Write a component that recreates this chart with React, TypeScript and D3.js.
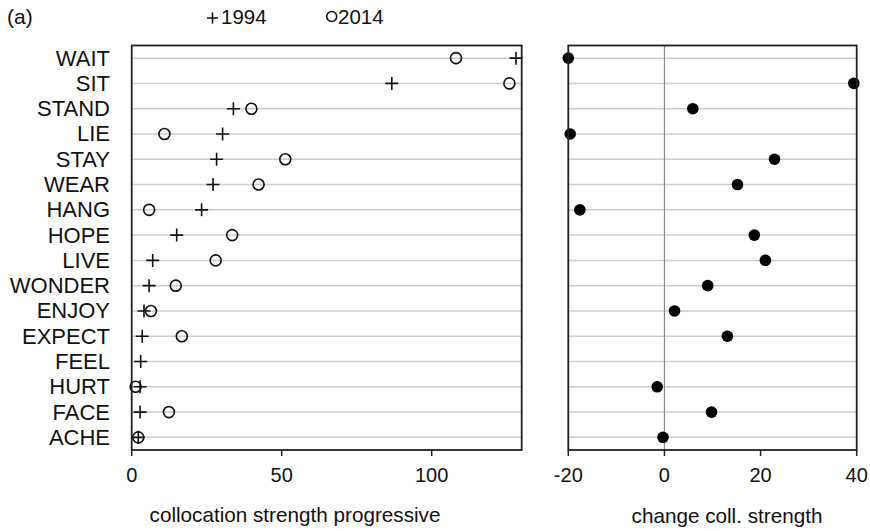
import React from "react";
import * as d3 from "d3";

const categories = ["WAIT","SIT","STAND","LIE","STAY","WEAR","HANG","HOPE","LIVE","WONDER","ENJOY","EXPECT","FEEL","HURT","FACE","ACHE"];
const values1994 = [128.1,86.7,33.9,30.3,28.3,27.1,23.3,15.0,7.0,5.8,4.1,3.5,3.0,2.8,2.8,2.2];
const values2014: (number|null)[] = [108.1,125.9,39.9,10.9,51.2,42.3,5.8,33.5,28.0,14.7,6.4,16.7,null,1.3,12.4,2.2];
const changes: (number|null)[] = [-20,39.4,5.9,-19.6,22.9,15.2,-17.6,18.7,21.0,9.0,2.1,13.1,null,-1.5,9.8,-0.3];
const leftTicks = [0,50,100];
const rightTicks = [-20,0,20,40];

const FONT = "Liberation Sans, Arial, sans-serif";

export default function App() {
  const top = 45.5, bottom = 450;
  const y = d3.scalePoint<string>().domain(categories).range([top, bottom]).padding(0.5);
  const xL = d3.scaleLinear().domain([0,130]).range([131.7,521.7]);
  const xR = d3.scaleLinear().domain([-20,40]).range([568.3,856.7]);
  const plus = (cx:number, cy:number, s=6.5) => `M${cx-s},${cy}H${cx+s}M${cx},${cy-s}V${cy+s}`;
  return (
    <svg width={870} height={531} style={{position:"absolute",left:0,top:0,background:"#fff"}} fontFamily={FONT} fill="#111">
      <text x={7} y={24} fontSize={21}>(a)</text>
      <path d={plus(212.5,18,5.5)} stroke="#111" strokeWidth={1.6}/>
      <text x={221} y={24} fontSize={20.5}>1994</text>
      <circle cx={331.7} cy={16.5} r={5} fill="none" stroke="#111" strokeWidth={1.6}/>
      <text x={338} y={24} fontSize={20.5}>2014</text>

      {/* left panel */}
      {categories.map((c)=>(
        <g key={c}>
          <line x1={xL.range()[0]} x2={xL.range()[1]} y1={y(c)} y2={y(c)} stroke="#ccc" strokeWidth={1.5}/>
          <text x={110} y={y(c)!+7.5} fontSize={22} textAnchor="end">{c}</text>
        </g>
      ))}
      {categories.map((c,i)=>(
        <g key={c+"m"}>
          {values2014[i]!=null && <circle cx={xL(values2014[i] as number)} cy={y(c)} r={5.5} fill="none" stroke="#111" strokeWidth={1.6}/>}
          <path d={plus(xL(values1994[i]), y(c)!)} stroke="#111" strokeWidth={1.6}/>
        </g>
      ))}
      <rect x={xL.range()[0]} y={top} width={xL.range()[1]-xL.range()[0]} height={bottom-top} fill="none" stroke="#222" strokeWidth={1.8}/>
      {leftTicks.map(t=>(
        <g key={t}>
          <line x1={xL(t)} x2={xL(t)} y1={bottom} y2={bottom+6} stroke="#222" strokeWidth={1.5}/>
          <text x={xL(t)} y={482} fontSize={20} textAnchor="middle">{t}</text>
        </g>
      ))}
      <text x={295} y={522} fontSize={20.7} textAnchor="middle">collocation strength progressive</text>

      {/* right panel */}
      {categories.map((c)=>(
        <line key={c+"g"} x1={xR.range()[0]} x2={xR.range()[1]} y1={y(c)} y2={y(c)} stroke="#ccc" strokeWidth={1.5}/>
      ))}
      <line x1={xR(0)} x2={xR(0)} y1={top} y2={bottom} stroke="#888" strokeWidth={1.2}/>
      {categories.map((c,i)=> changes[i]!=null ? (
        <circle key={c+"d"} cx={xR(changes[i] as number)} cy={y(c)} r={5.8} fill="#000"/>
      ) : null)}
      <rect x={xR.range()[0]} y={top} width={xR.range()[1]-xR.range()[0]} height={bottom-top} fill="none" stroke="#222" strokeWidth={1.8}/>
      {rightTicks.map(t=>(
        <g key={t}>
          <line x1={xR(t)} x2={xR(t)} y1={bottom} y2={bottom+6} stroke="#222" strokeWidth={1.5}/>
          <text x={xR(t)} y={482} fontSize={20} textAnchor="middle">{t}</text>
        </g>
      ))}
      <text x={727} y={523} fontSize={20.7} textAnchor="middle">change coll. strength</text>
    </svg>
  );
}
